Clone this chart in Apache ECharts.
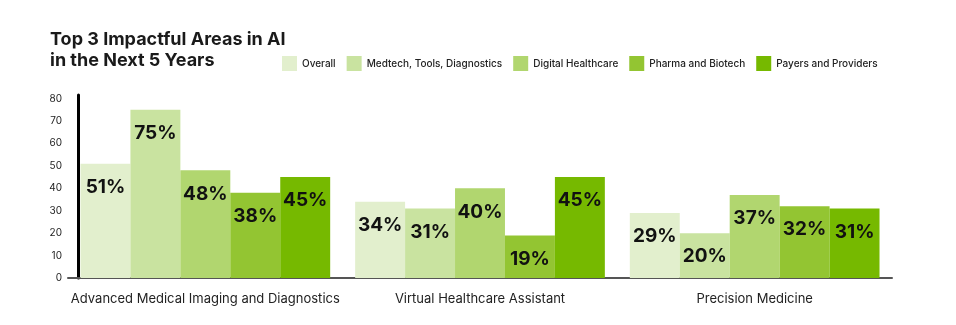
<!DOCTYPE html>
<html>
<head>
<meta charset="utf-8">
<script src="https://cdn.jsdelivr.net/npm/echarts@6/dist/echarts.min.js"></script>
<style>
  html, body { margin: 0; padding: 0; background: #ffffff; }
  #chart { width: 956px; height: 325px; }
</style>
</head>
<body>
<div id="chart"></div>
<script>
// Survey areas (x categories)
const categories = [
  'Advanced Medical Imaging and Diagnostics',
  'Virtual Healthcare Assistant',
  'Precision Medicine'
];

// Share of respondents (%) per segment
const overall  = [51, 34, 29];
const medtech  = [75, 31, 20];
const digital  = [48, 40, 37];
const pharma   = [38, 19, 32];
const payers   = [45, 45, 31];

const seriesNames = [
  'Overall',
  'Medtech, Tools, Diagnostics',
  'Digital Healthcare',
  'Pharma and Biotech',
  'Payers and Providers'
];
const seriesValues = [overall, medtech, digital, pharma, payers];
const seriesColors = ['#e2efcd', '#c9e3a0', '#b1d66f', '#93c532', '#76b900'];

const yTicks = [0, 10, 20, 30, 40, 50, 60, 70, 80];

const FONT = 'Inter, "Noto Sans", sans-serif';

const chart = echarts.init(document.getElementById('chart'), null, { renderer: 'canvas' });

chart.setOption({
  animation: false,
  backgroundColor: '#ffffff',
  title: {
    text: 'Top 3 Impactful Areas in AI\nin the Next 5 Years',
    left: 50,
    top: 29,
    padding: 0,
    textStyle: {
      fontFamily: FONT,
      fontSize: 18,
      fontWeight: 700,
      lineHeight: 21,
      color: '#1a1a1a'
    }
  },
  legend: {
    data: seriesNames,
    left: 282,
    top: 56,
    padding: 0,
    icon: 'rect',
    itemWidth: 15,
    itemHeight: 15,
    itemGap: 11,
    textStyle: {
      fontFamily: FONT,
      fontSize: 10,
      fontWeight: 500,
      color: '#222222'
    }
  },
  grid: {
    left: 68,
    right: 64,
    top: 95,
    bottom: 47,
    containLabel: false
  },
  xAxis: {
    type: 'category',
    data: categories,
    axisLine: { show: true, lineStyle: { color: '#555555', width: 2 } },
    axisTick: { show: false },
    axisLabel: {
      margin: 15,
      fontFamily: FONT,
      fontSize: 13,
      color: '#222222',
      interval: 0
    }
  },
  yAxis: {
    type: 'value',
    min: yTicks[0],
    max: 81.6,
    interval: 10,
    offset: -10,
    splitLine: { show: false },
    axisTick: { show: false },
    axisLine: { show: true, lineStyle: { color: '#000000', width: 3 } },
    axisLabel: {
      margin: 16,
      fontFamily: FONT,
      fontSize: 10,
      color: '#222222',
      showMaxLabel: false,
      formatter: function (v) {
        return yTicks.indexOf(v) >= 0 ? String(v) : '';
      }
    }
  },
  series: seriesNames.map(function (name, i) {
    return {
      name: name,
      type: 'bar',
      data: seriesValues[i],
      barGap: '0%',
      barCategoryGap: '9.09%',
      itemStyle: { color: seriesColors[i] },
      label: {
        show: true,
        position: 'insideTop',
        distance: 14,
        formatter: '{c}%',
        fontFamily: FONT,
        fontSize: 19,
        fontWeight: 700,
        color: '#111111'
      }
    };
  })
});
</script>
</body>
</html>
